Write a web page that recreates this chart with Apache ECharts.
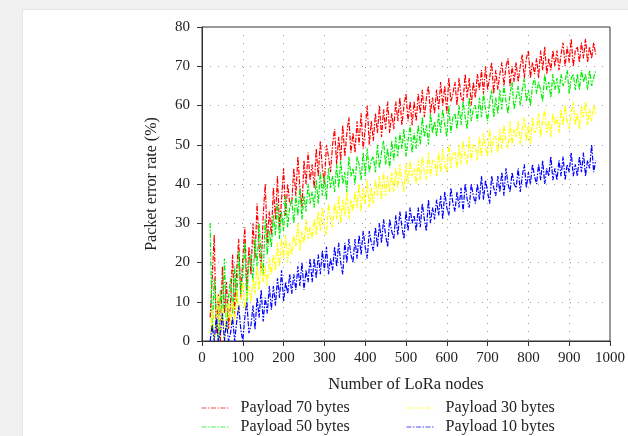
<!DOCTYPE html>
<html>
<head>
<meta charset="utf-8">
<script src="https://cdn.jsdelivr.net/npm/echarts@6/dist/echarts.min.js"></script>
<style>
html,body{margin:0;padding:0;background:#f0f0f0;width:628px;height:436px;overflow:hidden;}
#card{position:absolute;left:22px;top:9px;right:0;bottom:0;background:#fff;border-left:1px solid #e6e6e6;border-top:1px solid #e6e6e6;}
#chart{position:absolute;left:0;top:0;width:628px;height:436px;}
</style>
</head>
<body>
<div id="card"></div>
<div id="chart"></div>
<script>
// Number of LoRa nodes: first sample and spacing of samples
const nodeStart = 20;
const nodeStep = 5;

const xTicks = [0,100,200,300,400,500,600,700,800,900,1000];
const yTicks = [0,10,20,30,40,50,60,70,80];

const seriesNames = ['Payload 70 bytes','Payload 50 bytes','Payload 30 bytes','Payload 10 bytes'];

// Packet error rate (%), one value per 5 nodes from 20 to 965
const payload70 = [
  6,16,27,2,12,0,19,7,15,3,
  10,22,7,18,26,11,21,29,13,24,
  17,30,21,35,24,18,32,40,25,33,
  27,39,31,42,29,36,44,32,40,35,
  35,44,37,47,39,34,46,40,48,41,
  45,39,49,42,51,44,40,50,47,43,
  50,54,45,52,46,55,47,53,57,48,
  53,48,56,50,58,49,54,60,50,56,
  51,58,53,60,52,59,54,61,53,58,
  54,61,56,62,55,60,63,56,61,55,
  61,56,63,58,64,57,62,65,58,62,
  58,64,59,66,60,65,58,67,61,63,
  66,60,67,62,61,68,62,67,60,66,
  62,68,64,69,63,70,64,67,71,63,
  69,64,68,71,65,70,72,65,70,66,
  71,66,70,73,67,72,74,67,71,68,
  72,67,74,69,75,68,72,69,74,70,
  74,69,73,76,70,75,71,77,70,74,
  75,71,76,72,77,71,75,72,76,73
];
const payload50 = [
  30,2,16,7,0,13,5,21,3,11,
  16,7,19,10,23,12,17,25,10,21,
  22,15,26,19,30,21,17,31,22,28,
  24,32,27,35,26,33,28,37,29,34,
  36,30,37,32,39,31,37,33,40,35,
  38,34,41,35,43,37,42,36,44,39,
  42,38,45,39,46,40,43,38,47,42,
  44,40,47,45,41,48,42,49,43,46,
  47,43,50,44,48,51,45,49,44,51,
  46,52,47,53,49,54,47,51,55,48,
  53,49,55,50,57,52,55,50,58,53,
  56,52,58,53,59,55,52,60,53,57,
  58,54,60,55,61,57,54,62,56,59,
  60,56,62,57,63,59,56,61,64,57,
  62,58,64,59,65,61,58,63,66,59,
  62,65,60,64,67,61,64,60,65,67,
  63,66,64,61,68,64,66,62,68,64,
  67,63,68,65,66,69,63,67,68,64,
  68,64,69,66,68,64,69,65,67,69
];
const payload30 = [
  2,8,0,6,12,2,9,0,7,10,
  4,10,5,13,7,11,15,8,12,14,
  10,16,12,19,13,20,15,19,14,21,
  17,22,18,25,19,26,21,27,20,25,
  22,27,24,30,23,28,25,31,26,29,
  26,31,27,33,28,34,29,27,35,31,
  29,35,31,37,30,36,32,38,31,36,
  33,38,34,40,33,39,35,41,34,39,
  35,41,37,42,36,43,37,42,38,43,
  38,44,39,45,41,38,45,40,46,42,
  44,40,46,41,47,43,41,48,42,46,
  46,42,48,43,49,45,43,50,44,48,
  48,44,50,45,51,47,45,52,46,50,
  50,46,52,47,53,49,47,54,48,52,
  52,48,54,49,55,51,49,56,50,54,
  52,56,50,54,57,51,55,50,57,53,
  54,58,52,56,59,53,56,52,58,55,
  57,53,59,55,60,56,54,58,61,55,
  58,54,60,57,61,55,59,56,60,58
];
const payload10 = [
  0,4,0,6,0,2,7,0,5,0,
  2,6,0,5,9,3,0,6,10,2,
  4,9,3,11,6,13,5,11,7,14,
  8,14,9,16,11,18,10,15,12,17,
  12,17,13,19,14,20,13,18,15,21,
  15,21,16,22,17,23,18,24,17,21,
  18,24,19,25,20,17,25,20,26,22,
  20,26,21,27,22,28,24,21,28,25,
  23,29,24,30,25,31,27,24,31,28,
  26,32,27,33,29,26,33,28,34,30,
  32,28,34,29,35,31,28,36,30,34,
  31,36,32,37,31,38,34,32,39,35,
  33,38,34,39,33,40,36,34,40,37,
  35,40,36,42,36,41,38,35,42,39,
  37,42,38,43,37,44,40,38,43,40,
  39,44,38,42,45,39,43,40,45,42,
  40,45,41,46,40,44,42,47,41,44,
  41,46,42,47,41,45,43,48,42,45,
  42,47,43,48,42,46,44,50,43,46
];

const seriesValues = [payload70, payload50, payload30, payload10];
const colors = ['#ff0000','#00ee00','#ffff00','#0000ff'];

function pairs(vals){
  return vals.map((v,i)=>[nodeStart + i*nodeStep, v]);
}

const serif = '"Liberation Serif", "DejaVu Serif", serif';
const chart = echarts.init(document.getElementById('chart'), null, {renderer:'canvas'});

const series = seriesNames.map((name,k)=>({
  name: name,
  type: 'line',
  data: pairs(seriesValues[k]),
  symbol: 'none',
  showSymbol: false,
  animation: false,
  lineStyle: {color: colors[k], width: 1.2, type: [5,1.5,1.5,1.5]},
  itemStyle: {color: colors[k]},
  emphasis: {disabled: true}
}));

// legend positions: [left, top]
const legendPos = [[201,400],[201,419],[406,400],[406,419]];
const legends = seriesNames.map((name,k)=>({
  data: [name], orient: 'horizontal', left: legendPos[k][0], top: legendPos[k][1],
  itemWidth: 28, itemHeight: 12, padding: 0, selectedMode: false,
  itemStyle: {opacity: 0},
  lineStyle: {width: 1, opacity: 0.7},
  textStyle: {fontFamily: serif, fontSize: 16, color: '#222', padding: [0,0,0,6]}
}));

chart.setOption({
  backgroundColor: 'transparent',
  animation: false,
  grid: {left: 202, right: 16, top: 27, bottom: 95, show: true, borderColor: '#333', borderWidth: 1, backgroundColor: 'transparent'},
  xAxis: {
    type: 'value', min: xTicks[0], max: xTicks[xTicks.length-1], interval: 100,
    name: 'Number of LoRa nodes', nameLocation: 'middle', nameGap: 35,
    nameTextStyle: {fontFamily: serif, fontSize: 16.5, color: '#222'},
    axisLine: {show: true, lineStyle: {color: '#333', width: 1}},
    axisTick: {show: true, length: 5, lineStyle: {color: '#333'}},
    axisLabel: {fontFamily: serif, fontSize: 15, color: '#222', margin: 10, formatter: v => String(v)},
    splitLine: {show: true, lineStyle: {color: '#999', width: 1, type: [1,7]}}
  },
  yAxis: {
    type: 'value', min: yTicks[0], max: yTicks[yTicks.length-1], interval: 10,
    name: 'Packet error rate (%)', nameLocation: 'middle', nameGap: 42,
    nameTextStyle: {fontFamily: serif, fontSize: 16, color: '#222'},
    axisLine: {show: true, lineStyle: {color: '#333', width: 1}},
    axisTick: {show: true, length: 5, lineStyle: {color: '#333'}},
    axisLabel: {fontFamily: serif, fontSize: 15, color: '#222', margin: 12},
    splitLine: {show: true, lineStyle: {color: '#999', width: 1, type: [1,7]}}
  },
  legend: legends,
  series: series
});
</script>
</body>
</html>
